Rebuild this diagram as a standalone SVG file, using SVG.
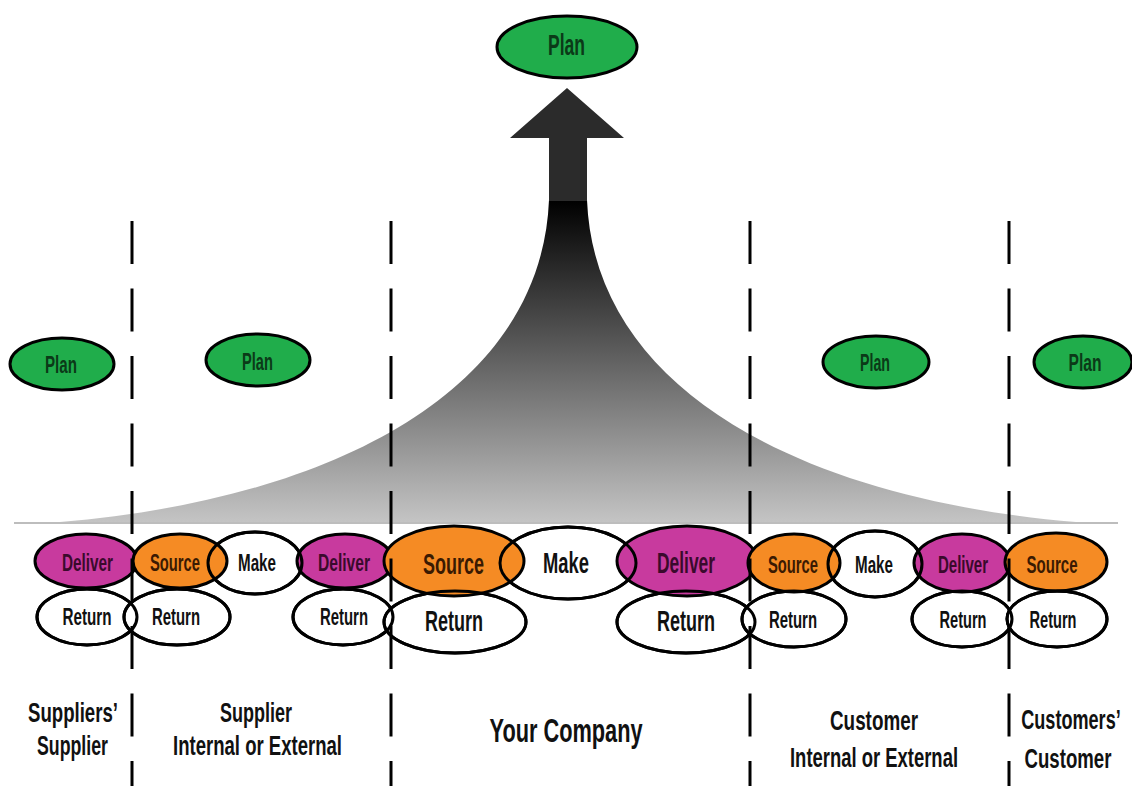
<svg xmlns="http://www.w3.org/2000/svg" width="1132" height="786" viewBox="0 0 1132 786">
<defs>
<linearGradient id="fan" x1="0" y1="200" x2="0" y2="522" gradientUnits="userSpaceOnUse">
<stop offset="0" stop-color="#000"/>
<stop offset="1" stop-color="#c4c4c4"/>
</linearGradient>
<style>
.t{font-family:"Liberation Sans",Arial,sans-serif;font-weight:bold;text-anchor:middle;}
.s{font-size:24px;}
.b{font-size:29px;}
.p{font-size:24px;fill:#0b3a18;}
.w{fill:#fff;stroke:#000;stroke-width:3;}
.g{fill:#20ad4b;stroke:#000;stroke-width:3;}
.o{fill:#f58b24;stroke:#000;stroke-width:3;}
.m{fill:#c83a9e;stroke:#000;stroke-width:3;}
.k{fill:none;stroke:#000;stroke-width:3;}
.to{fill:#3a1a02;}
.tm{fill:#3a0a2c;}
.tk{fill:#111;}
.lbl{font-size:28px;fill:#111;}
.dash{stroke:#000;stroke-width:3;stroke-dasharray:43 24.5;fill:none;}
</style>
</defs>
<rect width="1132" height="786" fill="#fff"/>

<g id="flow">
<line x1="14" y1="523" x2="1118" y2="523" stroke="#bdbdbd" stroke-width="2"/>
<path d="M549,200 C541,395 325,500 60,522 L1076,522 C811,500 595,395 587,200 Z" fill="url(#fan)"/>
<path d="M549,201 L549,138 L510,138 L567,88 L624,138 L587,138 L587,201 Z" fill="#2b2b2b"/>
</g>

<g id="plan-top"><ellipse class="g" cx="567" cy="47" rx="70" ry="31"/><text class="t p" x="566.5" y="55" style="font-size:30px" textLength="37" lengthAdjust="spacingAndGlyphs">Plan</text></g>
<g id="plan-1"><ellipse class="g" cx="62" cy="364" rx="52" ry="26"/><text class="t p" x="61" y="373" textLength="32" lengthAdjust="spacingAndGlyphs">Plan</text></g>
<g id="plan-2"><ellipse class="g" cx="258" cy="360" rx="52" ry="26"/><text class="t p" x="257.5" y="370" textLength="31" lengthAdjust="spacingAndGlyphs">Plan</text></g>
<g id="plan-4"><ellipse class="g" cx="876" cy="362" rx="53" ry="26"/><text class="t p" x="875" y="371" textLength="30" lengthAdjust="spacingAndGlyphs">Plan</text></g>
<g id="plan-5"><ellipse class="g" cx="1083" cy="362" rx="49" ry="26"/><text class="t p" x="1085" y="371" textLength="33" lengthAdjust="spacingAndGlyphs">Plan</text></g>

<g id="return-1"><ellipse class="w" cx="87" cy="617" rx="50" ry="28"/><text class="t s tk" x="87" y="625" textLength="49" lengthAdjust="spacingAndGlyphs">Return</text></g>
<g id="return-2"><ellipse class="w" cx="177" cy="617" rx="53" ry="28"/><text class="t s tk" x="176" y="625" textLength="48" lengthAdjust="spacingAndGlyphs">Return</text></g>
<g id="make-2"><ellipse class="w" cx="255" cy="563" rx="47" ry="31"/><text class="t s tk" x="257" y="571" textLength="38" lengthAdjust="spacingAndGlyphs">Make</text></g>
<g id="return-3"><ellipse class="w" cx="343" cy="617" rx="50" ry="28"/><text class="t s tk" x="344" y="625" textLength="48" lengthAdjust="spacingAndGlyphs">Return</text></g>
<g id="return-c1"><ellipse class="w" cx="455" cy="622" rx="71" ry="31"/><text class="t b tk" x="454" y="631" textLength="58" lengthAdjust="spacingAndGlyphs">Return</text></g>
<g id="make-c"><ellipse class="w" cx="568" cy="563" rx="68" ry="36"/><text class="t b tk" x="566" y="573" textLength="46" lengthAdjust="spacingAndGlyphs">Make</text></g>
<g id="return-c2"><ellipse class="w" cx="686" cy="622" rx="69" ry="31"/><text class="t b tk" x="686" y="631" textLength="58" lengthAdjust="spacingAndGlyphs">Return</text></g>
<g id="return-4a"><ellipse class="w" cx="794" cy="619" rx="52" ry="28"/><text class="t s tk" x="793" y="628" textLength="48" lengthAdjust="spacingAndGlyphs">Return</text></g>
<g id="make-4"><ellipse class="w" cx="875" cy="564" rx="47" ry="33"/><text class="t s tk" x="874" y="573" textLength="38" lengthAdjust="spacingAndGlyphs">Make</text></g>
<g id="return-4b"><ellipse class="w" cx="962" cy="619" rx="50" ry="28"/><text class="t s tk" x="963" y="628" textLength="47" lengthAdjust="spacingAndGlyphs">Return</text></g>
<g id="return-5"><ellipse class="w" cx="1057" cy="619" rx="50" ry="28"/><text class="t s tk" x="1053" y="628" textLength="47" lengthAdjust="spacingAndGlyphs">Return</text></g>

<g id="deliver-1"><ellipse class="m" cx="86" cy="561" rx="51" ry="27"/></g>
<g id="source-2"><ellipse class="o" cx="180" cy="561" rx="47" ry="27"/></g>
<g id="deliver-2"><ellipse class="m" cx="345" cy="561" rx="48" ry="27"/></g>
<g id="source-c"><ellipse class="o" cx="454" cy="561" rx="70" ry="35"/></g>
<g id="deliver-c"><ellipse class="m" cx="687" cy="561" rx="70" ry="35"/></g>
<g id="source-4"><ellipse class="o" cx="794" cy="563" rx="46" ry="29"/></g>
<g id="deliver-4"><ellipse class="m" cx="962" cy="563" rx="48" ry="29"/></g>
<g id="source-5"><ellipse class="o" cx="1056" cy="562" rx="51" ry="29"/></g>

<g id="outlines">
<ellipse class="k" cx="87" cy="617" rx="50" ry="28"/>
<ellipse class="k" cx="177" cy="617" rx="53" ry="28"/>
<ellipse class="k" cx="255" cy="563" rx="47" ry="31"/>
<ellipse class="k" cx="343" cy="617" rx="50" ry="28"/>
<ellipse class="k" cx="455" cy="622" rx="71" ry="31"/>
<ellipse class="k" cx="568" cy="563" rx="68" ry="36"/>
<ellipse class="k" cx="686" cy="622" rx="69" ry="31"/>
<ellipse class="k" cx="794" cy="619" rx="52" ry="28"/>
<ellipse class="k" cx="875" cy="564" rx="47" ry="33"/>
<ellipse class="k" cx="962" cy="619" rx="50" ry="28"/>
<ellipse class="k" cx="1057" cy="619" rx="50" ry="28"/>
</g>

<g id="coloured-labels">
<text class="t s tm" x="87.5" y="571" textLength="51" lengthAdjust="spacingAndGlyphs">Deliver</text>
<text class="t s to" x="175" y="571" textLength="50" lengthAdjust="spacingAndGlyphs">Source</text>
<text class="t s tm" x="344" y="571" textLength="52" lengthAdjust="spacingAndGlyphs">Deliver</text>
<text class="t b to" x="453.5" y="574" textLength="61" lengthAdjust="spacingAndGlyphs">Source</text>
<text class="t b tm" x="686" y="573" textLength="58" lengthAdjust="spacingAndGlyphs">Deliver</text>
<text class="t s to" x="793" y="573" textLength="50" lengthAdjust="spacingAndGlyphs">Source</text>
<text class="t s tm" x="963" y="573" textLength="50" lengthAdjust="spacingAndGlyphs">Deliver</text>
<text class="t s to" x="1052" y="573" textLength="51" lengthAdjust="spacingAndGlyphs">Source</text>
</g>

<g id="connectors">
<line class="dash" x1="132" y1="221" x2="132" y2="786"/>
<line class="dash" x1="391" y1="221" x2="391" y2="786"/>
<line class="dash" x1="750" y1="221" x2="750" y2="786"/>
<line class="dash" x1="1009" y1="221" x2="1009" y2="786"/>
</g>

<g id="labels">
<text class="t lbl" x="73" y="722" textLength="90" lengthAdjust="spacingAndGlyphs">Suppliers’</text>
<text class="t lbl" x="72.5" y="755" textLength="71" lengthAdjust="spacingAndGlyphs">Supplier</text>
<text class="t lbl" x="256" y="722" textLength="72" lengthAdjust="spacingAndGlyphs">Supplier</text>
<text class="t lbl" x="257.5" y="755" textLength="169" lengthAdjust="spacingAndGlyphs">Internal or External</text>
<text class="t lbl" x="566" y="742" style="font-size:34px" textLength="153" lengthAdjust="spacingAndGlyphs">Your Company</text>
<text class="t lbl" x="874" y="730" textLength="88" lengthAdjust="spacingAndGlyphs">Customer</text>
<text class="t lbl" x="874" y="767" textLength="168" lengthAdjust="spacingAndGlyphs">Internal or External</text>
<text class="t lbl" transform="translate(1071,729) scale(0.67,1)" x="0" y="0" style="font-size:27px">Customers’</text>
<text class="t lbl" transform="translate(1068,768) scale(0.69,1)" x="0" y="0" style="font-size:27px">Customer</text>
</g>
</svg>
